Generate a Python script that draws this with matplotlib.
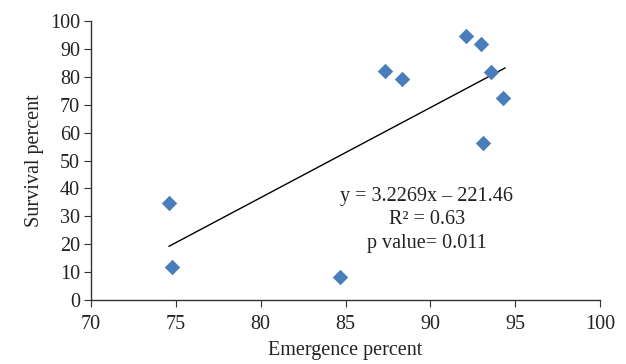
import numpy as np
import matplotlib
matplotlib.use("Agg")
import matplotlib.pyplot as plt

plt.rcParams["font.family"] = ["Liberation Serif", "DejaVu Serif"]

emergence = [74.6, 74.8, 84.7, 87.3, 88.3, 92.1, 93.0, 93.6, 94.3, 93.1]
survival = [34.8, 11.8, 8.2, 82.2, 79.2, 94.6, 91.6, 81.8, 72.4, 56.3]
slope, intercept = 3.2269, -221.46
fit_x = [74.6, 94.4]

fig = plt.figure(figsize=(6.26, 3.64), dpi=100)
ax = fig.add_axes([0.1454, 0.1758, 0.8131, 0.7665])

fx = np.array(fit_x)
ax.plot(fx, slope * fx + intercept, color="black", lw=1.0, zorder=2)
ax.scatter(emergence, survival, marker="D", s=62, color="#4a7ebb", zorder=3, linewidths=0)

ax.set_xlim(70, 100)
ax.set_ylim(0, 100)
ax.set_xticks(np.arange(70, 101, 5))
ax.set_yticks(np.arange(0, 101, 10))
ax.spines["top"].set_visible(False)
ax.spines["right"].set_visible(False)
for s in ("left", "bottom"):
    ax.spines[s].set_color("#333333")
    ax.spines[s].set_linewidth(1.0)
ax.tick_params(axis="both", labelsize=14.5, color="#333333", labelcolor="#222222", length=5)
ax.tick_params(axis="x", pad=6)
ax.tick_params(axis="y", pad=3)

ax.set_xlabel("Emergence percent", fontsize=14.5, color="#222222", labelpad=5)
ax.set_ylabel("Survival percent", fontsize=14.5, color="#222222", labelpad=4)

ax.text(89.8, 28.7, "y = 3.2269x \u2013 221.46\nR\u00b2 = 0.63\np value= 0.011",
        ha="center", va="center", fontsize=14.5, color="#222222", linespacing=1.3)

fig.savefig("out.png", dpi=100)
